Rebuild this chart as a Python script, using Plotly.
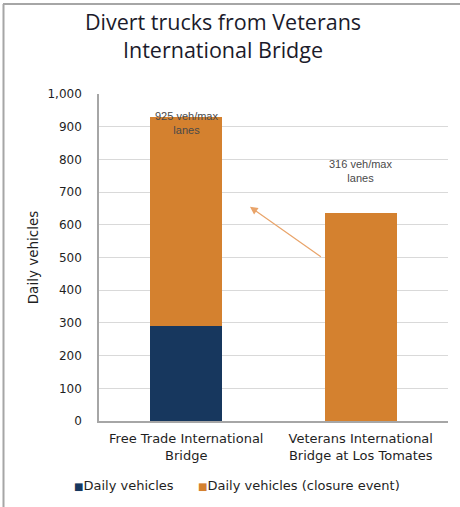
import plotly.graph_objects as go

categories = ["Free Trade International<br>Bridge", "Veterans International<br>Bridge at Los Tomates"]
daily = [290, 0]
closure = [640, 636]
y_ticks = [0, 100, 200, 300, 400, 500, 600, 700, 800, 900, 1000]
notes = ["925 veh/max<br>lanes", "316 veh/max<br>lanes"]
note_y = [958, 810]
series_names = ["Daily vehicles", "Daily vehicles (closure event)"]
series_colors = ["#17375E", "#D4812F"]

W, H = 460, 507
ML, MR, MT, MB = 99, 12, 94, 86
PW, PH = W - ML - MR, H - MT - MB
TXT = "DejaVu Sans, Liberation Sans, Arial"

xs = [0, 1]
fig = go.Figure()
fig.add_trace(go.Bar(x=xs, y=daily, name=series_names[0], marker=dict(color=series_colors[0], line=dict(width=0))))
fig.add_trace(go.Bar(x=xs, y=closure, name=series_names[1], marker=dict(color=series_colors[1], line=dict(width=0))))

for i in range(2):
    fig.add_annotation(x=xs[i], y=note_y[i], text=notes[i], showarrow=False,
                       font=dict(family="Liberation Sans, Arial", size=11, color="#4a4a4a"),
                       yanchor="top", xanchor="center")

# arrow from Veterans bar toward Free Trade bar
fig.add_annotation(x=0.365, y=655, ax=0.78, ay=499, axref="x", ayref="y", xref="x", yref="y",
                   text="", showarrow=True, arrowhead=2, arrowsize=1.3, arrowwidth=1.2,
                   arrowcolor="#E9A46A")

def px_x(p):
    return (p - ML) / PW

def px_y(p):
    return (MT + PH - p) / PH

# frame lines (left and top)
fig.add_shape(type="line", xref="paper", yref="paper", x0=px_x(3.5), x1=px_x(3.5), y0=px_y(4), y1=px_y(H),
              line=dict(color="#A6A6A6", width=2))
fig.add_shape(type="line", xref="paper", yref="paper", x0=px_x(3), x1=px_x(W), y0=px_y(4), y1=px_y(4),
              line=dict(color="#A6A6A6", width=2))

# legend drawn as text with coloured squares
legend_x = [72, 196]
for i in range(2):
    fig.add_annotation(xref="paper", yref="paper", x=px_x(legend_x[i]), y=px_y(485),
                       xanchor="left", yanchor="middle", showarrow=False,
                       text=f"<span style='color:{series_colors[i]};font-size:10px'>■</span>{series_names[i]}",
                       font=dict(family=TXT, size=13, color="#1f1f1f"))

fig.update_layout(
    width=W, height=H,
    margin=dict(l=ML, r=MR, t=MT, b=MB),
    paper_bgcolor="white", plot_bgcolor="white",
    barmode="stack", bargap=0.59,
    title=dict(text="Divert trucks from Veterans<br>International Bridge",
               x=223 / W, xanchor="center", xref="container",
               y=1 - 30 / H, yanchor="top", yref="container",
               font=dict(family="Open Sans, Noto Sans", size=21.5, color="#1b1b2b")),
    font=dict(family=TXT, size=12, color="#1f1f1f"),
    showlegend=False,
)
fig.update_xaxes(tickvals=xs, ticktext=categories, range=[-0.5, 1.5],
                 showline=True, linecolor="#A6A6A6", linewidth=1.5, showgrid=False,
                 ticks="", tickfont=dict(family=TXT, size=13, color="#1f1f1f"), ticklabelstandoff=5)
fig.update_yaxes(range=[0, 1000], tickvals=y_ticks, tickformat=",",
                 showline=True, linecolor="#A6A6A6", linewidth=1.5,
                 gridcolor="#D9D9D9", gridwidth=1, zeroline=False,
                 ticks="", ticklabelstandoff=13, tickfont=dict(family=TXT, size=12, color="#1f1f1f"),
                 title=dict(text="Daily vehicles", standoff=6, font=dict(family=TXT, size=13.5, color="#1f1f1f")))

fig.write_html("out.html", post_script="document.body.style.margin='0';",
               config={"displayModeBar": False})
